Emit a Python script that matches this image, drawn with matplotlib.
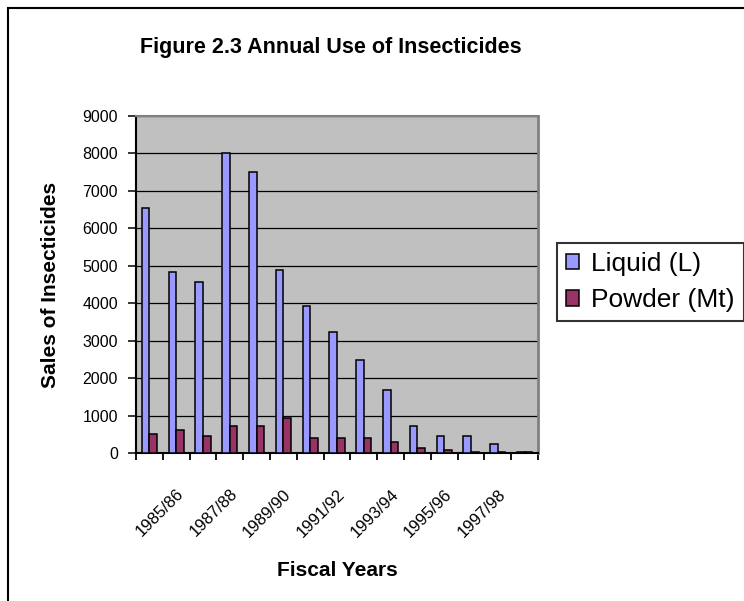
from matplotlib import pyplot as plt
from matplotlib.patches import Rectangle
import numpy as np

# Data
years = ["1984/85", "1985/86", "1986/87", "1987/88", "1988/89", "1989/90",
         "1990/91", "1991/92", "1992/93", "1993/94", "1994/95", "1995/96",
         "1996/97", "1997/98", "1998/99"]
liquid = [6550, 4840, 4570, 8000, 7510, 4890, 3930, 3235, 2490, 1685,
          720, 455, 455, 240, 20]
powder = [510, 615, 455, 720, 720, 935, 400, 400, 400, 295,
          135, 80, 25, 25, 15]


def main():
    plt.rcParams["font.family"] = ["Liberation Sans", "DejaVu Sans"]

    W, H = 744, 601
    fig = plt.figure(figsize=(W / 100, H / 100), dpi=100)

    # outer frame of the chart object
    fig.patches.append(Rectangle((8 / W, -0.1), 2, 1.1 - 8 / H,
                                 transform=fig.transFigure, fill=False,
                                 edgecolor="black", linewidth=1.5))

    left, right, top, bottom = 136, 538, 116, 453
    ax = fig.add_axes([left / W, 1 - bottom / H, (right - left) / W, (bottom - top) / H])
    ax.set_facecolor("#C0C0C0")

    x = np.arange(len(years))
    w = 0.286
    ax.bar(x - w / 2, liquid, w, color="#9999FF", edgecolor="black",
           linewidth=1.1, label="Liquid (L)", zorder=3)
    ax.bar(x + w / 2, powder, w, color="#993366", edgecolor="black",
           linewidth=1.1, label="Powder (Mt)", zorder=3)

    ax.set_xlim(-0.5, len(years) - 0.5)
    ax.set_ylim(0, 9000)
    ax.set_yticks(np.arange(0, 9001, 1000))
    ax.yaxis.grid(True, color="black", linewidth=0.9, zorder=1)
    ax.set_axisbelow(True)

    # category labels every other year, ticks at the category boundaries
    ax.set_xticks(x[1::2])
    ax.set_xticklabels(years[1::2], rotation=45, ha="right", va="top",
                       rotation_mode="anchor", fontsize=12)
    ax.tick_params(axis="x", length=0, pad=24)
    ax.set_xticks(np.arange(-0.5, len(years), 1), minor=True)
    ax.tick_params(axis="x", which="minor", length=5, width=1.3, direction="out")
    ax.tick_params(axis="y", length=6, width=1.1, direction="out", labelsize=11.5, pad=7)

    for s in ["left", "bottom"]:
        ax.spines[s].set_color("black")
        ax.spines[s].set_linewidth(1.5)
    ax.spines["top"].set_color("#808080")
    ax.spines["top"].set_linewidth(1.5)
    ax.spines["right"].set_color("#808080")
    ax.spines["right"].set_linewidth(2)

    ax.set_ylabel("Sales of Insecticides", fontsize=15, fontweight="bold", labelpad=16)
    ax.set_xlabel("Fiscal Years", fontsize=15, fontweight="bold", labelpad=15)
    fig.text(331 / W, 1 - 48 / H, "Figure 2.3 Annual Use of Insecticides",
             ha="center", va="center", fontsize=15.5, fontweight="bold")

    leg = fig.legend(loc="upper left", bbox_to_anchor=(557 / W, 1 - 243 / H),
                     fontsize=19, frameon=True, fancybox=False,
                     handlelength=0.5, handleheight=0.5, handletextpad=0.45,
                     borderpad=0.34, labelspacing=0.47, borderaxespad=0)
    leg.get_frame().set_edgecolor("black")
    leg.get_frame().set_linewidth(1.5)

    fig.savefig("out.png", dpi=100)


if __name__ == "__main__":
    main()
